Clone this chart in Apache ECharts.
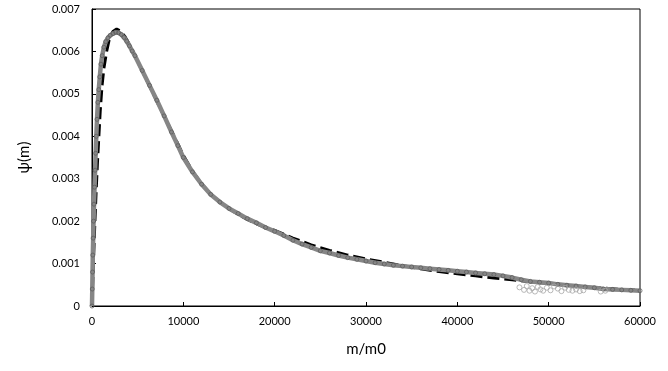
<!DOCTYPE html>
<html>
<head>
<meta charset="utf-8">
<script src="https://cdn.jsdelivr.net/npm/echarts@6/dist/echarts.min.js"></script>
<style>
  html, body { margin: 0; padding: 0; background: #fff; }
  #chart { width: 668px; height: 371px; }
</style>
</head>
<body>
<div id="chart"></div>
<script>
// measured psi(m) values (gray circles)
const measX = [0, 30, 60, 90, 130, 170, 220, 280, 340, 400, 470, 550, 640, 740, 850, 980, 1120, 1300, 1500, 1750,
  2000, 2300, 2600, 2900, 3200, 3500, 3800, 4100, 4400, 4700, 5500, 6300, 7100, 7900, 8700, 9400, 10000,
  11000, 12000, 13000, 14000, 15000, 16000, 17000, 18000, 19000, 20000, 21000, 22000, 23000, 24000, 25000,
  26000, 27000, 28000, 29000, 30000, 31000, 32000, 33000, 34000, 35000, 36000, 37000, 38000, 39000, 40000,
  41000, 42000, 43000, 44000, 45000, 46000, 47000, 48000, 49000, 50000, 51000, 52000, 53000, 54000, 55000,
  56000, 57000, 58000, 59000, 60000];
const measY = [0, 0.0004, 0.0008, 0.0012, 0.0016, 0.0020, 0.0024, 0.0028, 0.0032, 0.0036, 0.0040, 0.0044, 0.0048,
  0.0051, 0.0054, 0.0057, 0.0059, 0.0061, 0.00623, 0.00632, 0.00638, 0.00642, 0.00645, 0.00644, 0.0064, 0.00633,
  0.00624, 0.00613, 0.00601, 0.0059, 0.00555, 0.0052, 0.00485, 0.00448, 0.0041, 0.00378, 0.0035,
  0.00316, 0.00287, 0.00263, 0.00245, 0.0023, 0.00218, 0.00206, 0.00196, 0.00185, 0.00176, 0.00166, 0.00155,
  0.00146, 0.00138, 0.0013, 0.00125, 0.00119, 0.00114, 0.0011, 0.00106, 0.00102, 0.00099, 0.00096, 0.00094,
  0.00092, 0.0009, 0.00088, 0.00086, 0.00084, 0.00082, 0.0008, 0.00078, 0.00076, 0.00074, 0.00071, 0.00067,
  0.00062, 0.00058, 0.00056, 0.00054, 0.00051, 0.00049, 0.00047, 0.00045, 0.00043, 0.0004, 0.00039, 0.00038,
  0.00037, 0.00036];

// scattered measurements in the tail
const noiseX = [46800, 47300, 47600, 47900, 48200, 48500, 48800, 49100, 49400, 49800, 50200, 50600, 51000,
  51400, 51800, 52200, 52600, 53000, 53400, 53800, 55700, 56200];
const noiseY = [0.00044, 0.00038, 0.00047, 0.00036, 0.00042, 0.00034, 0.00045, 0.00039, 0.00036, 0.00043,
  0.00037, 0.00046, 0.00041, 0.00035, 0.00043, 0.00038, 0.00036, 0.00039, 0.00035, 0.00037, 0.00034, 0.00036];

// model curve (black dashed)
const modelX = [0, 150, 300, 450, 600, 750, 900, 1100, 1300, 1600, 1900, 2300, 2700, 3100, 3600, 4200, 4800,
  5600, 6400, 7200, 8000, 9000, 10000, 11000, 12000, 13000, 14000, 15000, 16000, 17000, 18000, 19000, 20000,
  22000, 24000, 26000, 28000, 30000, 32000, 34000, 36000, 38000, 40000, 42000, 44000, 46000, 48000, 50000,
  52000, 54000, 56000, 58000, 60000];
const modelY = [0, 0.001, 0.0019, 0.0027, 0.0034, 0.004, 0.0046, 0.0052, 0.0056, 0.006, 0.0063, 0.00647,
  0.00653, 0.00648, 0.00635, 0.00612, 0.00585, 0.0055, 0.00514, 0.00478, 0.00443, 0.004, 0.00355, 0.00318,
  0.00288, 0.00264, 0.00245, 0.00229, 0.00216, 0.00204, 0.00194, 0.00185, 0.00178, 0.0016, 0.00144, 0.00131,
  0.0012, 0.00111, 0.00103, 0.00095, 0.00088, 0.00081, 0.00076, 0.00071, 0.00066, 0.00062, 0.00057, 0.00053,
  0.00049, 0.00045, 0.00042, 0.00039, 0.00037];

const xTicks = [0, 10000, 20000, 30000, 40000, 50000, 60000];
const yTicks = [0, 0.001, 0.002, 0.003, 0.004, 0.005, 0.006, 0.007];

const pairs = (xs, ys) => xs.map((x, i) => [x, ys[i]]);
const font = 'Lato, "Open Sans", sans-serif';

const chart = echarts.init(document.getElementById('chart'));
chart.setOption({
  animation: false,
  backgroundColor: '#fff',
  textStyle: { fontFamily: font },
  grid: {
    left: 92,
    right: 28,
    top: 9,
    bottom: 65,
    show: true,
    borderColor: '#000',
    borderWidth: 1
  },
  xAxis: {
    type: 'value',
    min: xTicks[0],
    max: xTicks[xTicks.length - 1],
    interval: 10000,
    name: 'm/m0',
    nameLocation: 'middle',
    nameGap: 36,
    nameTextStyle: { fontSize: 15, color: '#000', fontFamily: font },
    axisLine: { lineStyle: { color: '#000', width: 1 } },
    axisTick: { inside: true, length: 4, lineStyle: { color: '#000' } },
    axisLabel: { fontSize: 11, color: '#000', margin: 10, fontFamily: font, formatter: v => String(v) },
    splitLine: { show: false }
  },
  yAxis: {
    type: 'value',
    min: yTicks[0],
    max: yTicks[yTicks.length - 1],
    interval: 0.001,
    name: 'ψ(m)',
    nameLocation: 'middle',
    nameGap: 60,
    nameTextStyle: { fontSize: 15, color: '#000', fontFamily: font },
    axisLine: { lineStyle: { color: '#000', width: 1 } },
    axisTick: { inside: true, length: 4, lineStyle: { color: '#000' } },
    axisLabel: {
      fontSize: 11, color: '#000', margin: 12, fontFamily: font,
      formatter: v => (v === 0 ? '0' : v.toFixed(3))
    },
    splitLine: { show: false }
  },
  series: [
    {
      name: 'model',
      type: 'line',
      data: pairs(modelX, modelY),
      showSymbol: false,
      lineStyle: { color: '#000', width: 3, type: [12, 5] },
      z: 2
    },
    {
      name: 'measured band',
      type: 'line',
      data: pairs(measX, measY),
      showSymbol: false,
      lineStyle: { color: '#868686', width: 4.5 },
      z: 3
    },
    {
      name: 'measured',
      type: 'scatter',
      data: pairs(measX, measY),
      symbol: 'circle',
      symbolSize: 4,
      itemStyle: { color: 'rgba(0,0,0,0)', borderColor: '#5e5e5e', borderWidth: 1 },
      z: 4
    },
    {
      name: 'tail',
      type: 'scatter',
      data: pairs(noiseX, noiseY),
      symbol: 'circle',
      symbolSize: 5,
      itemStyle: { color: 'rgba(0,0,0,0)', borderColor: '#a8a8a8', borderWidth: 1 },
      z: 4
    }
  ]
});
</script>
</body>
</html>
